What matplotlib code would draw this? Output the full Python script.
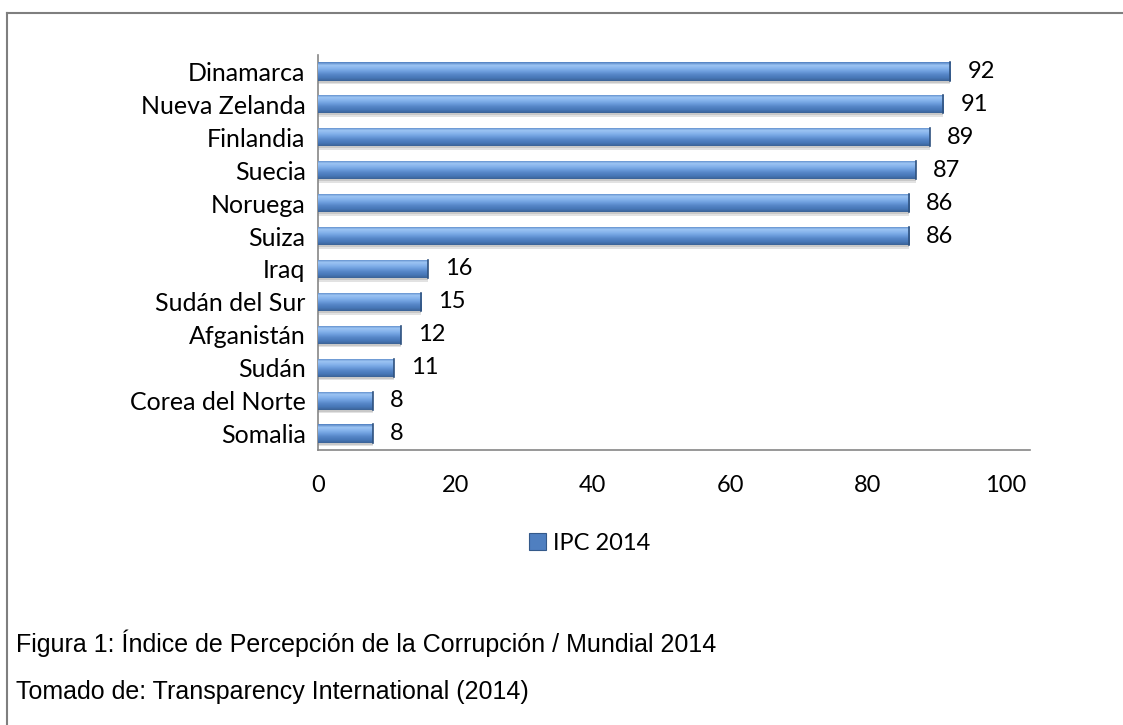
import matplotlib
matplotlib.use("Agg")
import matplotlib.pyplot as plt
import numpy as np
from matplotlib.colors import LinearSegmentedColormap
from matplotlib.patches import Rectangle
from matplotlib.lines import Line2D

# ── Data ──────────────────────────────────────────────────────────────────────
countries = [
    "Dinamarca", "Nueva Zelanda", "Finlandia", "Suecia", "Noruega", "Suiza",
    "Iraq", "Sudán del Sur", "Afganistán", "Sudán", "Corea del Norte", "Somalia",
]
ipc_2014 = [92, 91, 89, 87, 86, 86, 16, 15, 12, 11, 8, 8]
x_ticks = [0, 20, 40, 60, 80, 100]
series_label = "IPC 2014"
caption_1 = "Figura 1: Índice de Percepción de la Corrupción / Mundial 2014"
caption_2 = "Tomado de: Transparency International (2014)"

CHART_FONT = ["Lato", "DejaVu Sans"]
CAPTION_FONT = ["Liberation Sans", "DejaVu Sans"]

# bar shading, top -> bottom
bar_cmap = LinearSegmentedColormap.from_list(
    "bevel",
    ["#4F7FC0", "#9CC4F3", "#86B3EC", "#6C9DDD", "#5585C6", "#4878B8", "#3B6397"],
)

fig = plt.figure(figsize=(11.23, 7.25), dpi=100)
ax = fig.add_axes([0.2832, 0.3793, 0.634, 0.5448])

n = len(countries)
ypos = np.arange(n)[::-1]
h = 0.55

# soft shadow under each bar
ax.barh(ypos - 0.11, ipc_2014, height=h, color="#e2e2e2", zorder=1)
ax.barh(ypos - 0.06, ipc_2014, height=h, color="#c8c8c8", zorder=1)

bars = ax.barh(ypos, ipc_2014, height=h, color="#5B8BCB", zorder=2)
grad = np.linspace(0, 1, 64).reshape(-1, 1)
for b, v, y in zip(bars, ipc_2014, ypos):
    im = ax.imshow(
        grad, cmap=bar_cmap, aspect="auto", zorder=3,
        extent=[0, v, y - h / 2, y + h / 2], origin="upper",
    )
    im.set_clip_path(b)
    # darker end cap
    ax.plot([v, v], [y - h / 2, y + h / 2], color="#2F527F", lw=1.2, zorder=4)
    ax.text(v + 2.5, y, str(v), va="center", ha="left", fontsize=17,
            family=CHART_FONT, color="black")

ax.set_xlim(0, 103.6)
ax.set_ylim(-0.5, n - 0.5)
ax.set_xticks(x_ticks)
ax.set_yticks(ypos)
ax.set_yticklabels(countries)
ax.tick_params(axis="both", length=0)
ax.tick_params(axis="x", pad=18, labelsize=17)
ax.tick_params(axis="y", pad=9, labelsize=18)
for lab in ax.get_xticklabels() + ax.get_yticklabels():
    lab.set_family(CHART_FONT)

for side in ["top", "right"]:
    ax.spines[side].set_visible(False)
for side in ["left", "bottom"]:
    ax.spines[side].set_color("#868686")
    ax.spines[side].set_linewidth(1.2)

# legend
handle = Rectangle((0, 0), 1, 1, facecolor="#4F7FC0", edgecolor="#34598A", lw=0.8)
fig.legend(
    [handle], [series_label], loc="center", bbox_to_anchor=(0.525, 1 - 543 / 725),
    frameon=False, handlelength=0.7, handleheight=0.7, handletextpad=0.3,
    prop={"family": CHART_FONT, "size": 17},
)

# outer frame (top and left edges visible)
fig.add_artist(Line2D([7 / 1123, 1.0], [1 - 13 / 725] * 2, color="#7f7f7f", lw=1.5,
                      transform=fig.transFigure))
fig.add_artist(Line2D([7 / 1123] * 2, [0, 1 - 13 / 725], color="#7f7f7f", lw=1.5,
                      transform=fig.transFigure))

fig.text(0.014, 1 - 643 / 725, caption_1, va="center", ha="left", fontsize=18,
         family=CAPTION_FONT)
fig.text(0.014, 1 - 692 / 725, caption_2, va="center", ha="left", fontsize=18,
         family=CAPTION_FONT)

fig.savefig("out.png", dpi=100, facecolor="white")
